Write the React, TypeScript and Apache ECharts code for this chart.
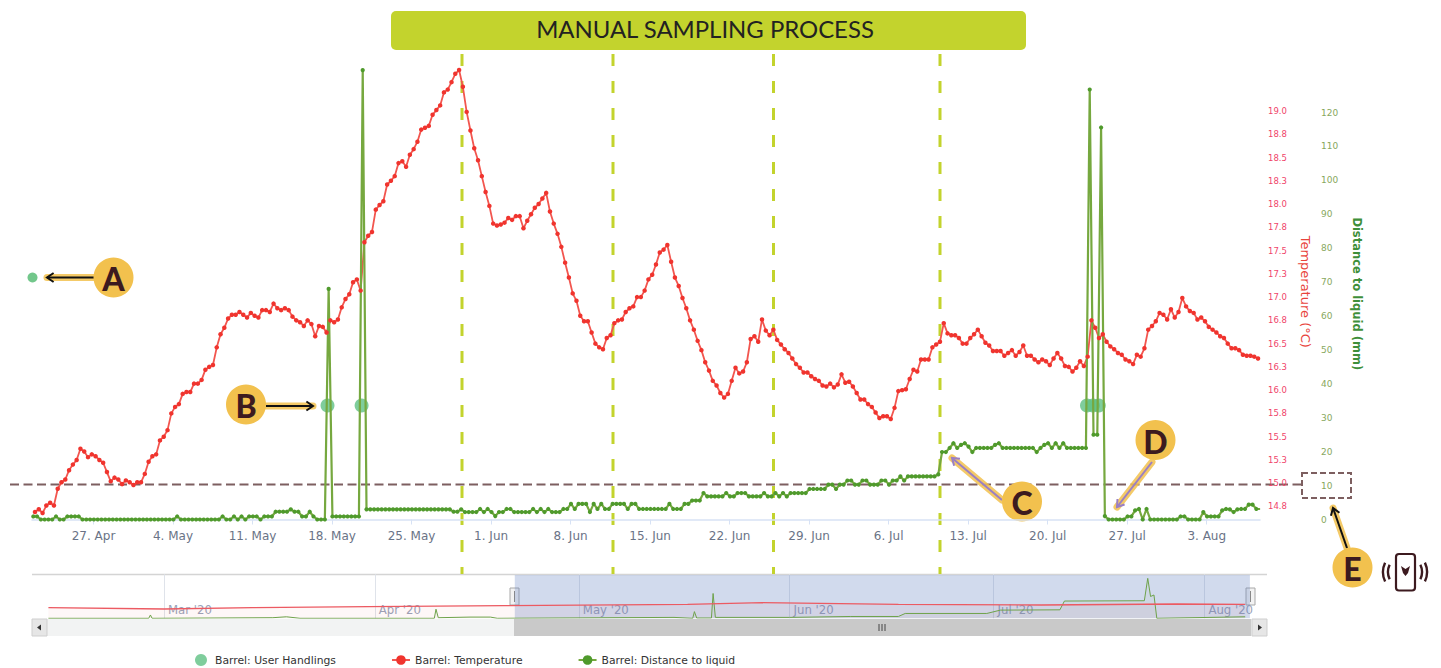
import React, { useEffect, useRef } from "react";
import * as echarts from "echarts";

const DAY = 86400000;
const H8 = DAY / 3;
const t0 = Date.UTC(2020, 3, 27);
const viewMin = t0 - 5.414 * DAY;
const viewMax = t0 + 102.69 * DAY;
const tempStart = t0 - 5.15 * DAY;
const distStart = t0 - 5.3 * DAY;

const temperature = [
  14.69,14.72,14.68,14.76,14.79,14.76,14.94,15.01,15.04,15.14,15.20,15.25,15.37,15.34,15.28,15.31,15.29,15.25,15.22,15.12,
  15.02,15.06,15.04,14.99,15.03,15.01,14.98,15.01,15.01,15.10,15.23,15.29,15.31,15.46,15.50,15.57,15.75,15.82,15.85,15.96,
  15.98,15.98,16.07,16.07,16.11,16.22,16.25,16.27,16.46,16.60,16.67,16.77,16.81,16.81,16.84,16.81,16.78,16.83,16.80,16.78,
  16.86,16.86,16.84,16.93,16.88,16.86,16.88,16.86,16.79,16.75,16.73,16.69,16.75,16.71,16.58,16.69,16.68,16.62,16.75,16.73,
  16.76,16.89,16.98,17.03,17.16,17.19,17.07,17.59,17.66,17.70,17.94,17.99,18.03,18.21,18.25,18.30,18.44,18.46,18.40,18.53,
  18.59,18.67,18.80,18.82,18.84,18.96,19.01,19.06,19.20,19.23,19.31,19.40,19.44,19.26,18.99,18.79,18.60,18.47,18.30,18.13,
  17.98,17.79,17.77,17.78,17.80,17.85,17.83,17.87,17.87,17.74,17.82,17.89,17.96,18.00,18.06,18.12,17.92,17.79,17.68,17.54,
  17.37,17.21,17.04,16.96,16.80,16.74,16.74,16.62,16.50,16.46,16.44,16.56,16.59,16.72,16.75,16.76,16.84,16.88,16.90,17.00,
  17.00,17.07,17.19,17.24,17.35,17.48,17.51,17.56,17.38,17.21,17.12,16.99,16.88,16.75,16.65,16.53,16.43,16.30,16.21,16.10,
  16.05,15.97,15.92,15.96,16.10,16.24,16.18,16.20,16.30,16.55,16.58,16.52,16.76,16.64,16.59,16.65,16.54,16.49,16.44,16.40,
  16.34,16.28,16.24,16.19,16.19,16.15,16.12,16.10,16.05,16.04,16.07,16.03,16.06,16.17,16.08,16.09,16.04,15.97,15.90,15.90,
  15.85,15.82,15.76,15.70,15.72,15.72,15.69,15.81,15.99,16.00,16.01,16.12,16.22,16.20,16.33,16.33,16.33,16.46,16.49,16.52,
  16.72,16.61,16.59,16.59,16.56,16.50,16.50,16.56,16.60,16.65,16.58,16.51,16.48,16.42,16.42,16.42,16.37,16.40,16.43,16.37,
  16.41,16.48,16.37,16.37,16.33,16.30,16.33,16.31,16.27,16.34,16.40,16.34,16.26,16.25,16.20,16.24,16.31,16.26,16.36,16.75,
  16.67,16.56,16.60,16.52,16.47,16.44,16.40,16.38,16.33,16.31,16.28,16.38,16.36,16.45,16.65,16.69,16.74,16.83,16.81,16.76,
  16.87,16.78,16.84,16.99,16.90,16.85,16.83,16.76,16.78,16.74,16.68,16.65,16.62,16.58,16.56,16.50,16.45,16.45,16.43,16.38,
  16.37,16.37,16.36,16.34,
];

const distance = [
  0.9,0.9,0,0,0,0,0.9,0,0,0.9,0.9,0.9,0.9,0,0,0,0,0,0,0,
  0,0,0,0,0,0,0,0,0,0,0,0,0,0,0,0,0,0,0.9,0,
  0,0,0,0,0,0,0,0,0,0,0.9,0,0,0.9,0,0.9,0,0.9,0.9,0.9,
  0,0.9,0.9,0.9,2.3,2.3,2.3,2.3,3,2.3,2.3,0.9,0.9,2.3,0.9,0,0,0,68,0.9,0.9,
  0.9,0.9,0.9,0.9,0.9,0.9,132.5,3,3,3,3,3,3,3,3,3,3,3,3,3,3,3,3,3,3,3,
  3,3,3,3,2.3,2.3,3,
  2.2,2.2,2.2,2.2,3.1,2.2,3.1,2.2,1,2.2,2.2,3.1,3.1,2.2,2.2,2.2,2.2,2.2,3.1,2.2,
  3.1,2.2,3.1,2.2,2.2,2.2,3.1,3.1,4.6,3.1,4.6,4.6,4.6,2.2,4.6,3.1,4.6,3.1,3.1,4.6,
  4.6,4.6,4.6,3.1,4.6,4.6,3.1,3.1,3.1,3.1,3.1,3.1,3.1,3.1,4.6,3.1,3.1,3.1,4.6,4.6,5.6,
  5.6,5.6,7.8,6.8,6.8,6.8,6.8,6.8,7.8,6.8,6.8,7.8,7.8,7.8,6.8,6.8,6.8,6.8,7.8,6.8,
  6.8,7.8,6.8,7.8,6.8,7.8,7.8,7.8,7.8,7.8,9,9,9,9,9,10.3,10.3,9,10.3,10.3,
  11.5,11.5,10.3,10.3,11.5,11.5,10.3,10.3,10.3,11.5,11.5,10.3,11.5,11.5,12.7,11.5,12.7,12.7,12.7,12.7,
  12.7,12.7,12.7,12.7,13.3,19.9,19.9,21.1,22.5,21.1,22,22.5,21.5,19.9,21.1,21.1,21.1,21.1,21.1,22,
  22.5,21.1,21.1,21.1,21.1,21.1,21.1,21.1,21.1,21.1,19.9,21.1,22,22.5,21.1,22.5,21.1,22.5,21.1,21.1,
  21.1,21.1,21.1,21.1,126.8,25,25,115.6,1,0,0,0,0,0,0.9,0.9,2.7,3.1,0,3.1,0,0,0,0,
  0,0,0,0,0.9,0.9,0,0,0,0,2.2,0.9,0.9,0.9,0.9,2.7,3.1,3,2.2,3,3.1,3.1,4.4,4.4,3.1,3.1,
];

const handlingTimes = [
  "2020-05-17T14:24:00Z","2020-05-20T14:24:00Z","2020-07-23T11:00:00Z","2020-07-23T23:30:00Z","2020-07-24T12:00:00Z",
];
const handlingLevel = 33.6;

const navTempDates = ["2020-02-13","2020-03-01","2020-03-14","2020-03-31","2020-04-20","2020-05-17","2020-05-28","2020-06-17","2020-07-08","2020-07-28","2020-08-07"];
const navTempValues = [14.7,12.9,14.7,16.1,17.5,19.4,21.6,19.4,18.4,19.8,19.4];
const navDistDates = ["2020-02-13","2020-02-27T18:00:00Z","2020-02-28T00:00:00Z","2020-02-28T06:00:00Z","2020-03-17","2020-03-19","2020-03-21","2020-04-09T18:00:00Z","2020-04-10T00:00:00Z","2020-04-10T08:00:00Z","2020-04-15","2020-04-18","2020-04-19","2020-05-15","2020-05-17T18:00:00Z","2020-05-18T00:00:00Z","2020-05-18T08:00:00Z","2020-05-20T12:00:00Z","2020-05-20T18:00:00Z","2020-05-21T02:00:00Z","2020-06-01","2020-06-10","2020-06-17","2020-06-18","2020-06-30","2020-07-02","2020-07-10T18:00:00Z","2020-07-11T10:00:00Z","2020-07-23T04:00:00Z","2020-07-23T16:00:00Z","2020-07-24T02:00:00Z","2020-07-24T14:00:00Z","2020-07-25T00:00:00Z","2020-08-07"];
const navDistValues = [0,0,11,0,2,5,0,0,30,2,4,4,0,3,0,22,1,1,82,3,3,6,6,16,16,27,28,57,58,132,72,77,0,5];

const tempTicks = [14.75,15,15.25,15.5,15.75,16,16.25,16.5,16.75,17,17.25,17.5,17.75,18,18.25,18.5,18.75,19];
const distTicks = [0,10,20,30,40,50,60,70,80,90,100,110,120];
const weekTicks = Array.from({ length: 15 }, (_, i) => t0 + i * 7 * DAY);
const monthTicks = [Date.UTC(2020,2,1),Date.UTC(2020,3,1),Date.UTC(2020,4,1),Date.UTC(2020,5,1),Date.UTC(2020,6,1),Date.UTC(2020,7,1)];
const MONTHS = ["Jan","Feb","Mar","Apr","May","Jun","Jul","Aug","Sep","Oct","Nov","Dec"];

const AMBER = "#f2c14e";
const DARK = "#3c1a1f";
const BAND = "#c3d32d";
const BROWN = "#7d5f60";
const PURPLE = "#9a7fc4";

function badge(letter: string, cx: number, cy: number) {
  return [
    { type: "circle", shape: { cx, cy, r: 20 }, style: { fill: AMBER } },
    { type: "text", x: cx, y: cy + 1, style: { text: letter, fill: DARK, font: "900 32px Lato", align: "center", verticalAlign: "middle" } },
  ];
}
function arrow(x1: number, y1: number, x2: number, y2: number, color: string) {
  const a = Math.atan2(y2 - y1, x2 - x1);
  const h = 8;
  const p1 = [x2 - h * Math.cos(a - 0.6), y2 - h * Math.sin(a - 0.6)];
  const p2 = [x2 - h * Math.cos(a + 0.6), y2 - h * Math.sin(a + 0.6)];
  return [
    { type: "line", shape: { x1, y1, x2, y2 }, style: { stroke: AMBER, lineWidth: 7, lineCap: "round", opacity: 0.85 } },
    { type: "line", shape: { x1, y1, x2, y2 }, style: { stroke: color, lineWidth: 2 } },
    { type: "polyline", shape: { points: [p1, [x2, y2], p2] }, style: { stroke: color, lineWidth: 2, fill: "none" } },
  ];
}
function vDash(x: number, y1: number) {
  return { type: "line", shape: { x1: x, y1, x2: x, y2: 574 }, style: { stroke: BAND, lineWidth: 3, lineDash: [12, 15] } };
}
function arcIcon(r: number, s: number, e: number) {
  return { type: "arc", shape: { cx: 1405, cy: 572, r, startAngle: s, endAngle: e }, style: { stroke: DARK, lineWidth: 2.4, fill: "none" } };
}

export default function App() {
  const ref = useRef<HTMLDivElement>(null);
  useEffect(() => {
    document.body.style.margin = "0";
    const chart = echarts.init(ref.current!, undefined, { renderer: "svg" });
    const graphic: any[] = [
      { type: "line", shape: { x1: 32, y1: 574.5, x2: 1267, y2: 574.5 }, style: { stroke: "#d4d4d4", lineWidth: 1.5 } },
      { type: "rect", shape: { x: 32, y: 619, width: 1235, height: 17 }, style: { fill: "#f2f3f3" } },
      { type: "rect", shape: { x: 514, y: 619, width: 737, height: 17 }, style: { fill: "#c9c9c9" } },
      { type: "rect", shape: { x: 32, y: 619, width: 15, height: 17 }, style: { fill: "#e6e6e6", stroke: "#cfcfcf" } },
      { type: "rect", shape: { x: 1252, y: 619, width: 15, height: 17 }, style: { fill: "#e6e6e6", stroke: "#cfcfcf" } },
      { type: "polygon", shape: { points: [[37, 627.5], [41, 624.5], [41, 630.5]] }, style: { fill: "#333" } },
      { type: "polygon", shape: { points: [[1262, 627.5], [1258, 624.5], [1258, 630.5]] }, style: { fill: "#333" } },
      { type: "line", shape: { x1: 879, y1: 624, x2: 879, y2: 631 }, style: { stroke: "#444", lineWidth: 1 } },
      { type: "line", shape: { x1: 882, y1: 624, x2: 882, y2: 631 }, style: { stroke: "#444", lineWidth: 1 } },
      { type: "line", shape: { x1: 885, y1: 624, x2: 885, y2: 631 }, style: { stroke: "#444", lineWidth: 1 } },
      { type: "rect", shape: { x: 510, y: 588, width: 9, height: 17 }, style: { fill: "#f2f2f2", stroke: "#a8a8a8" } },
      { type: "line", shape: { x1: 514.5, y1: 591, x2: 514.5, y2: 602 }, style: { stroke: "#888", lineWidth: 1 } },
      { type: "rect", shape: { x: 1246, y: 588, width: 9, height: 17 }, style: { fill: "#f2f2f2", stroke: "#a8a8a8" } },
      { type: "line", shape: { x1: 1250.5, y1: 591, x2: 1250.5, y2: 602 }, style: { stroke: "#888", lineWidth: 1 } },
      { type: "rect", shape: { x: 391, y: 11, width: 635, height: 39, r: 5 }, style: { fill: BAND } },
      { type: "text", x: 705, y: 28, style: { text: "MANUAL SAMPLING PROCESS", fill: "#222", font: "400 23.9px Lato", align: "center", verticalAlign: "middle" } },
      vDash(462, 54), vDash(613, 54), vDash(773.5, 54), vDash(940, 54),
      { type: "line", shape: { x1: 10, y1: 484.5, x2: 1301, y2: 484.5 }, style: { stroke: BROWN, lineWidth: 2, lineDash: [9, 4.5] } },
      { type: "rect", shape: { x: 1302, y: 473, width: 49, height: 25 }, style: { fill: "none", stroke: BROWN, lineWidth: 2, lineDash: [6, 3] } },
      { type: "circle", shape: { cx: 32.5, cy: 277.5, r: 5 }, style: { fill: "#72c78b" } },
      ...arrow(94, 277.5, 47, 277.5, "#111"),
      ...badge("A", 113.5, 277.5),
      ...arrow(266, 406, 313, 406, "#111"),
      ...badge("B", 246, 404.5),
      ...arrow(1002, 500, 952, 458, PURPLE),
      ...badge("C", 1022, 501.5),
      ...arrow(1152, 462, 1117, 507, PURPLE),
      ...badge("D", 1155.5, 440),
      ...arrow(1347, 548, 1333, 508, "#111"),
      ...badge("E", 1352.5, 567.5),
      { type: "rect", shape: { x: 1396, y: 554, width: 19, height: 36.5, r: 3 }, style: { fill: "#fff", stroke: DARK, lineWidth: 2.2 } },
      { type: "polygon", shape: { points: [[1401, 566], [1405.5, 569], [1410, 566], [1408, 573], [1405.5, 576], [1403, 573]] }, style: { fill: DARK } },
      arcIcon(17, 2.7, 3.58), arcIcon(22, 2.7, 3.58), arcIcon(17, -0.44, 0.44), arcIcon(22, -0.44, 0.44),
    ];

    const option: any = {
      animation: false,
      backgroundColor: "#fff",
      grid: [
        { left: 32, right: 181, top: 60, bottom: 148.5 },
        { left: 47, right: 189, top: 575, bottom: 49.7 },
      ],
      legend: {
        left: 190,
        top: 649,
        itemWidth: 18,
        itemHeight: 12,
        itemGap: 55,
        textStyle: { fontFamily: "DejaVu Sans", fontSize: 10.8, color: "#333" },
        data: ["Barrel: User Handlings", "Barrel: Temperature", "Barrel: Distance to liquid"],
      },
      xAxis: [
        {
          type: "value",
          gridIndex: 0,
          min: viewMin,
          max: viewMax,
          axisLine: { lineStyle: { color: "#d7e2f5", width: 1.5 } },
          axisTick: { show: true, length: 5, lineStyle: { color: "#d7e2f5" }, customValues: weekTicks },
          splitLine: { show: false },
          axisLabel: {
            customValues: weekTicks,
            margin: 10,
            hideOverlap: false,
            fontFamily: "DejaVu Sans",
            fontSize: 12,
            color: "#6a7386",
            formatter: (v: number) => {
              const d = new Date(v);
              return `${d.getUTCDate()}. ${MONTHS[d.getUTCMonth()]}`;
            },
          },
        },
        {
          type: "value",
          gridIndex: 1,
          min: Date.UTC(2020, 1, 12, 19),
          max: Date.UTC(2020, 7, 8),
          axisLine: { show: false },
          axisTick: { show: true, inside: true, length: 44, lineStyle: { color: "#dfe3ea" }, customValues: monthTicks },
          splitLine: { show: false },
          axisLabel: {
            inside: true,
            customValues: monthTicks,
            margin: 2,
            align: "left",
            padding: [0, 0, 0, 4],
            hideOverlap: false,
            fontFamily: "DejaVu Sans Condensed, DejaVu Sans",
            fontSize: 13,
            color: "#9aa3b8",
            formatter: (v: number) => {
              const d = new Date(v);
              return `${MONTHS[d.getUTCMonth()]} '20`;
            },
          },
        },
      ],
      yAxis: [
        {
          type: "value",
          gridIndex: 0,
          position: "right",
          min: 14.61,
          max: 19.548,
          splitLine: { show: false },
          axisLine: { show: false },
          axisTick: { show: false },
          axisLabel: {
            customValues: tempTicks,
            margin: 8,
            hideOverlap: false,
            padding: [2, 0, 0, 0],
            fontFamily: "DejaVu Sans",
            fontSize: 8.5,
            color: "#f0446a",
            formatter: (v: number) => v.toFixed(1),
          },
          name: "Temperature (°C)",
          nameLocation: "middle",
          nameRotate: -90,
          nameGap: 39,
          nameTextStyle: { fontFamily: "DejaVu Sans", fontSize: 13, color: "#e8443c", padding: [0, 0, 0, 4] },
        },
        {
          type: "value",
          gridIndex: 0,
          position: "right",
          offset: 53,
          min: 0,
          max: 135.5,
          splitLine: { show: false },
          axisLine: { show: false },
          axisTick: { show: false },
          axisLabel: {
            customValues: distTicks,
            margin: 8,
            hideOverlap: false,
            fontFamily: "DejaVu Sans",
            fontSize: 9,
            color: "#88a860",
          },
          name: "Distance to liquid (mm)",
          nameLocation: "middle",
          nameRotate: -90,
          nameGap: 38,
          nameTextStyle: { fontFamily: "DejaVu Sans", fontWeight: "bold", fontSize: 11.5, color: "#3f8f3a", padding: [0, 0, 0, 8] },
        },
        { type: "value", gridIndex: 1, min: 0, max: 143, show: false },
        { type: "value", gridIndex: 1, min: 0, max: 60, show: false },
      ],
      series: [
        {
          name: "Barrel: Temperature",
          type: "line",
          xAxisIndex: 0,
          yAxisIndex: 0,
          showSymbol: true,
          showAllSymbol: true,
          symbol: "circle",
          symbolSize: 4.5,
          lineStyle: { color: "#f2564f", width: 1.8 },
          itemStyle: { color: "#f0342e" },
          data: temperature.map((v, i) => [tempStart + i * H8, v]),
        },
        {
          name: "Barrel: Distance to liquid",
          type: "line",
          xAxisIndex: 0,
          yAxisIndex: 1,
          showSymbol: true,
          showAllSymbol: true,
          symbol: "circle",
          symbolSize: 4.2,
          lineStyle: { color: "#76a83f", width: 2.2 },
          itemStyle: { color: "#4f9a2c" },
          data: distance.map((v, i) => [distStart + i * H8, v]),
        },
        {
          name: "Barrel: User Handlings",
          type: "scatter",
          xAxisIndex: 0,
          yAxisIndex: 1,
          symbolSize: 14,
          itemStyle: { color: "#5fc083", opacity: 0.8 },
          data: handlingTimes.map((t) => [Date.parse(t), handlingLevel]),
        },
        {
          name: "nav-distance",
          type: "line",
          xAxisIndex: 1,
          yAxisIndex: 2,
          showSymbol: false,
          lineStyle: { color: "#6ea24a", width: 1 },
          areaStyle: { color: "rgba(110,162,74,0.06)" },
          data: navDistDates.map((d, i) => [Date.parse(d), navDistValues[i]]),
          markArea: {
            silent: true,
            itemStyle: { color: "rgba(102,133,194,0.3)" },
            data: [[{ xAxis: viewMin }, { xAxis: viewMax }]],
          },
        },
        {
          name: "nav-temperature",
          type: "line",
          xAxisIndex: 1,
          yAxisIndex: 3,
          showSymbol: false,
          lineStyle: { color: "#ec5a62", width: 1.3 },
          areaStyle: { color: "rgba(240,80,80,0.06)" },
          data: navTempDates.map((d, i) => [Date.parse(d), navTempValues[i]]),
        },
      ],
      graphic,
    };
    chart.setOption(option);
    return () => chart.dispose();
  }, []);
  return <div ref={ref} style={{ position: "fixed", left: 0, top: 0, width: 1441, height: 668 }} />;
}
